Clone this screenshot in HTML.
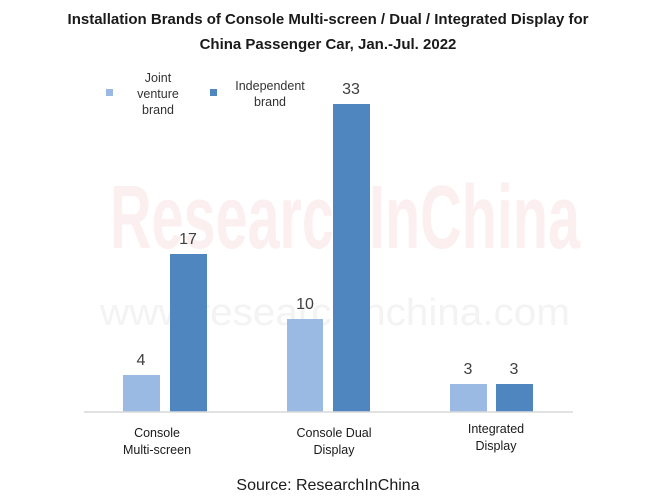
<!DOCTYPE html>
<html><head><meta charset="utf-8"><style>
html,body{margin:0;padding:0;background:#fff;}
svg{display:block;font-family:"Liberation Sans",Arial,sans-serif;}
</style></head><body>
<svg width="657" height="501" viewBox="0 0 657 501" xmlns="http://www.w3.org/2000/svg">
<rect width="657" height="501" fill="#fff"/>
<text x="328" y="24" text-anchor="middle" font-size="15" font-weight="bold" fill="#1a1a1a">Installation Brands of Console Multi-screen / Dual / Integrated Display for</text>
<text x="328" y="49" text-anchor="middle" font-size="15" font-weight="bold" fill="#1a1a1a">China Passenger Car, Jan.-Jul. 2022</text>
<text x="345" y="248" text-anchor="middle" font-size="90" font-weight="bold" fill="#fbefef" textLength="470" lengthAdjust="spacingAndGlyphs">ResearchInChina</text>
<text x="335" y="325" text-anchor="middle" font-size="38" fill="#f3f3f3" textLength="470" lengthAdjust="spacingAndGlyphs">www.researchinchina.com</text>
<!-- legend -->
<rect x="106" y="89" width="7" height="7" fill="#9ab9e3"/>
<text x="158" y="82" text-anchor="middle" font-size="12.5" fill="#333">Joint</text>
<text x="158" y="98" text-anchor="middle" font-size="12.5" fill="#333">venture</text>
<text x="158" y="114" text-anchor="middle" font-size="12.5" fill="#333">brand</text>
<rect x="210" y="89" width="7" height="7" fill="#4f86c0"/>
<text x="270" y="90" text-anchor="middle" font-size="12.5" fill="#333">Independent</text>
<text x="270" y="106" text-anchor="middle" font-size="12.5" fill="#333">brand</text>
<!-- bars -->
<rect x="123" y="375" width="37" height="37" fill="#9ab9e3"/>
<rect x="170" y="254" width="37" height="158" fill="#4f86c0"/>
<rect x="287" y="319" width="36" height="93" fill="#9ab9e3"/>
<rect x="333" y="104" width="37" height="308" fill="#4f86c0"/>
<rect x="450" y="384" width="37" height="28" fill="#9ab9e3"/>
<rect x="496" y="384" width="37" height="28" fill="#4f86c0"/>
<line x1="84" y1="412" x2="573" y2="412" stroke="#d9d9d9" stroke-width="1.5"/>
<g font-size="16" fill="#404040" text-anchor="middle">
<text x="141" y="365">4</text>
<text x="188" y="244">17</text>
<text x="305" y="309">10</text>
<text x="351" y="94">33</text>
<text x="468" y="374">3</text>
<text x="514" y="374">3</text>
</g>
<g font-size="12.5" fill="#1a1a1a" text-anchor="middle">
<text x="157" y="437">Console</text>
<text x="157" y="454">Multi-screen</text>
<text x="334" y="437">Console Dual</text>
<text x="334" y="454">Display</text>
<text x="496" y="433">Integrated</text>
<text x="496" y="450">Display</text>
</g>
<text x="328" y="490" text-anchor="middle" font-size="16" fill="#1a1a1a">Source: ResearchInChina</text>
</svg>
</body></html>
